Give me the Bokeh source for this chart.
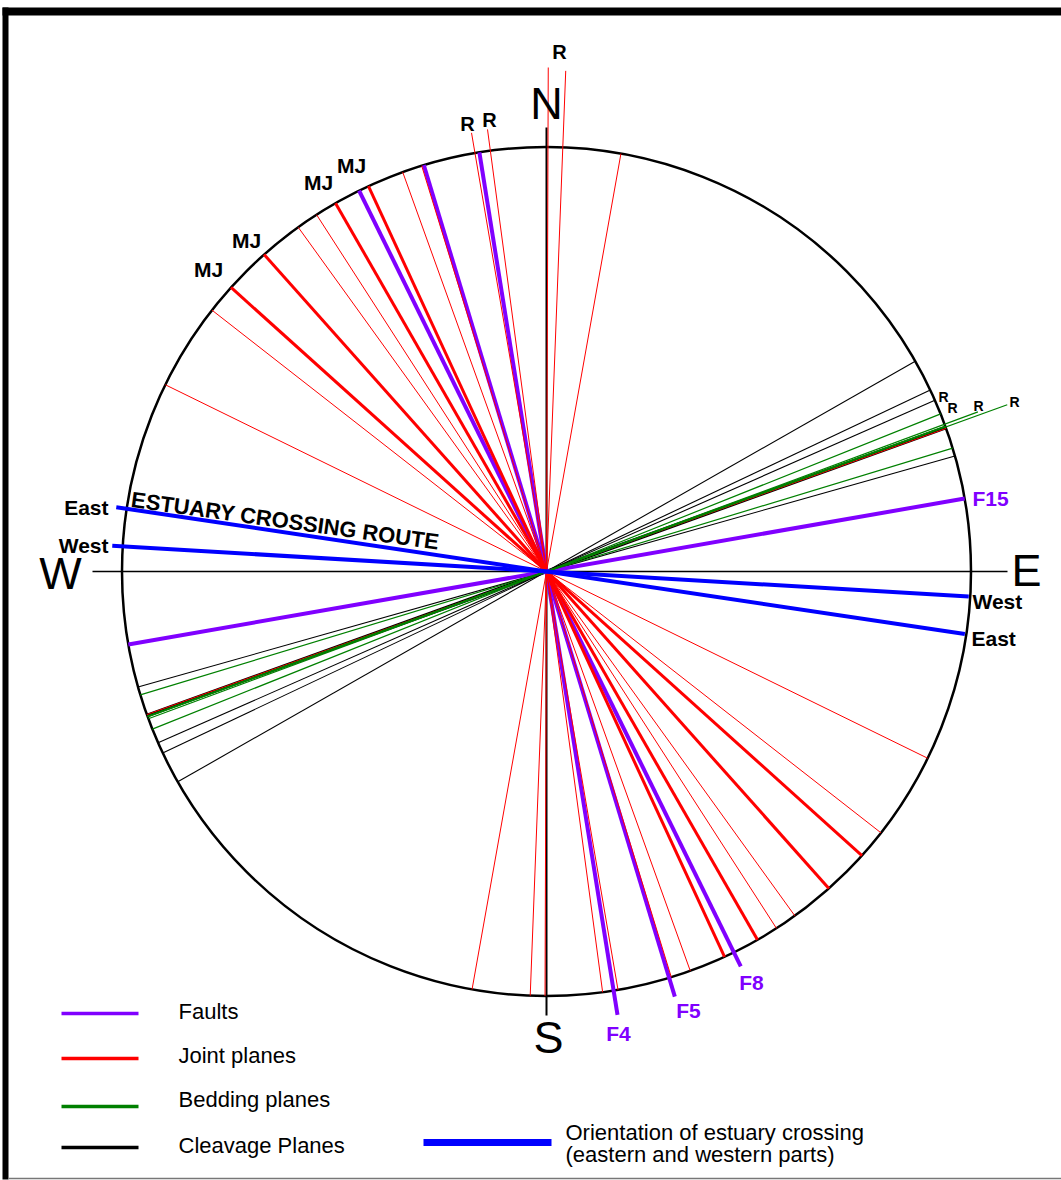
import math
from bokeh.plotting import figure
from bokeh.models import Range1d, ColumnDataSource
from bokeh.core.properties import value
from bokeh.embed import file_html
from bokeh.resources import INLINE

# ---------------- data (strikes in degrees, clockwise from north) ----------------
FAULT_STRIKES = [80.1, 153.8, 163.2, 170.9]
FAULT_NAMES = ["F15", "F8", "F5", "F4"]
JOINT_MAJOR = [132.0, 138.3, 150.2, 155.2]
JOINT_MINOR = [116.1, 128.0, 144.2, 147.2, 160.2, 162.9, 170.3, 172.4, 0.2, 2.2, 10.1, 70.3]
BEDDING = [68.2, 69.7, 70.1, 73.1, 70.0]
CLEAVAGE = [60.3, 64.7, 66.2, 74.2, 70.2]
ROUTE_PARTS = ["West", "East"]
ROUTE_STRIKES = [93.4, 98.5]
LEGEND_LABELS = ["Faults", "Joint planes", "Bedding planes", "Cleavage Planes"]
ROUTE_LEGEND = ["Orientation of estuary crossing", "(eastern and western parts)"]

# ---------------- layout ----------------
OX, OY = 0, 0              # page position of the figure
W, H = 1061, 1180
CX, CY = 546, 571          # page-pixel centre of the diagram
R = 424.5
FONT = value("Liberation Sans")
BASE_K = 0.37              # baseline correction (fraction of font size)

p = figure(width=W, height=H, output_backend="svg", toolbar_location=None,
           x_range=Range1d(OX - CX, OX + W - CX), y_range=Range1d(CY - OY - H, CY - OY),
           x_axis_location=None, y_axis_location=None, min_border=0)
p.grid.visible = False
p.outline_line_color = None
p.background_fill_color = "white"
p.border_fill_color = "white"


def X(sx):
    return sx - CX


def Y(sy):
    return CY - sy


def lines(strikes, color, width, fwd=None, back=None):
    n = len(strikes)
    fwd = fwd or [R] * n
    back = back or [R] * n
    x0, y0, x1, y1 = [], [], [], []
    for a, lf, lb in zip(strikes, fwd, back):
        s, c = math.sin(math.radians(a)), math.cos(math.radians(a))
        x0.append(-lb * s); y0.append(-lb * c)
        x1.append(lf * s); y1.append(lf * c)
    src = ColumnDataSource(dict(x0=x0, y0=y0, x1=x1, y1=y1))
    p.segment("x0", "y0", "x1", "y1", source=src, line_color=color, line_width=width)


def label(sx, sy, txt, size, color="black", bold=True, align="center", angle=0.0):
    d = BASE_K * size
    sx2 = sx - d * math.sin(-angle)
    sy2 = sy - d * math.cos(angle)
    p.text(x=[X(sx2)], y=[Y(sy2)], text=[txt], text_font=FONT,
           text_font_size=value(f"{size}px"), text_font_style="bold" if bold else "normal",
           text_color=color, text_align=align, text_baseline="alphabetic", angle=angle)


PURPLE, RED, GREEN, BLACK, BLUE = "#8000FF", "#FF0000", "#008000", "#000000", "#0000FF"

# frame
p.quad(left=[X(2)], right=[X(1061)], top=[Y(7)], bottom=[Y(15)], fill_color="black", line_color=None)
p.quad(left=[X(2)], right=[X(8)], top=[Y(7)], bottom=[Y(1179)], fill_color="black", line_color=None)
p.segment(x0=[X(8)], y0=[Y(1178)], x1=[X(1061)], y1=[Y(1178)], line_color="#777777", line_width=1.5)

# compass axes
lines([0.0], BLACK, 2, fwd=[444], back=[444])
lines([90.0], BLACK, 1.5, fwd=[461], back=[454])

# circle
p.circle(x=[0], y=[0], radius=R, fill_color=None, line_color="black", line_width=2.5)

# structural planes
lines(CLEAVAGE, BLACK, 1.1)
lines([70.2], BLACK, 3.5)
lines(FAULT_STRIKES, PURPLE, 4, fwd=[R, 440, 444, 449])
jm_back = [R] * len(JOINT_MINOR)
jm_fwd = [R] * len(JOINT_MINOR)
jm_back[6], jm_back[7] = 445, 446
jm_fwd[8], jm_fwd[9] = 504, 501
lines(JOINT_MINOR, RED, 1, fwd=jm_fwd, back=jm_back)
lines(JOINT_MAJOR, RED, 3)
lines(BEDDING, GREEN, 1.2, fwd=[R, 460, 490, R, R])
lines([70.0], GREEN, 1.6)
lines(ROUTE_STRIKES, BLUE, 4, fwd=[423, 423], back=[435, 435])

# compass letters
label(546, 120, "N", 45, bold=False)
label(548, 1054, "S", 45, bold=False)
label(60, 590, "W", 45, bold=False)
label(1026, 587, "E", 45, bold=False)

# R labels
for sx, sy in [(559, 59), (467, 131), (489, 127)]:
    label(sx, sy, "R", 20)
for sx, sy in [(938, 402), (947, 413), (973, 411), (1009, 407)]:
    label(sx, sy, "R", 14, align="left")

# MJ labels
for sx, sy in [(351, 173), (318, 190), (246, 248), (208, 277)]:
    label(sx, sy, "MJ", 21)

# fault labels
label(972, 506, FAULT_NAMES[0], 21, color=PURPLE, align="left")
label(751, 990, FAULT_NAMES[1], 21, color=PURPLE)
label(688, 1018, FAULT_NAMES[2], 21, color=PURPLE)
label(618, 1041, FAULT_NAMES[3], 21, color=PURPLE)

# route labels
label(108, 515, ROUTE_PARTS[1], 21, align="right")
label(108, 553, ROUTE_PARTS[0], 21, align="right")
label(972, 609, ROUTE_PARTS[0], 21, align="left")
label(971, 646, ROUTE_PARTS[1], 21, align="left")
label(132, 507, "ESTUARY CROSSING ROUTE", 22, align="left", angle=math.radians(-7.9))

# legend
leg_colors = [PURPLE, RED, GREEN, BLACK]
leg_y = [1013, 1058, 1106, 1147]
leg_base = [1019, 1063, 1107, 1153]
for col, ly, lb, txt in zip(leg_colors, leg_y, leg_base, LEGEND_LABELS):
    p.segment(x0=[X(61)], y0=[Y(ly)], x1=[X(138)], y1=[Y(ly)], line_color=col, line_width=3.5)
    label(178, lb, txt, 22, bold=False, align="left")
p.segment(x0=[X(423)], y0=[Y(1142)], x1=[X(551)], y1=[Y(1142)], line_color=BLUE, line_width=7)
label(565, 1140, ROUTE_LEGEND[0], 22, bold=False, align="left")
label(565, 1162, ROUTE_LEGEND[1], 22, bold=False, align="left")

open("out.html", "w").write(file_html(p, INLINE))
